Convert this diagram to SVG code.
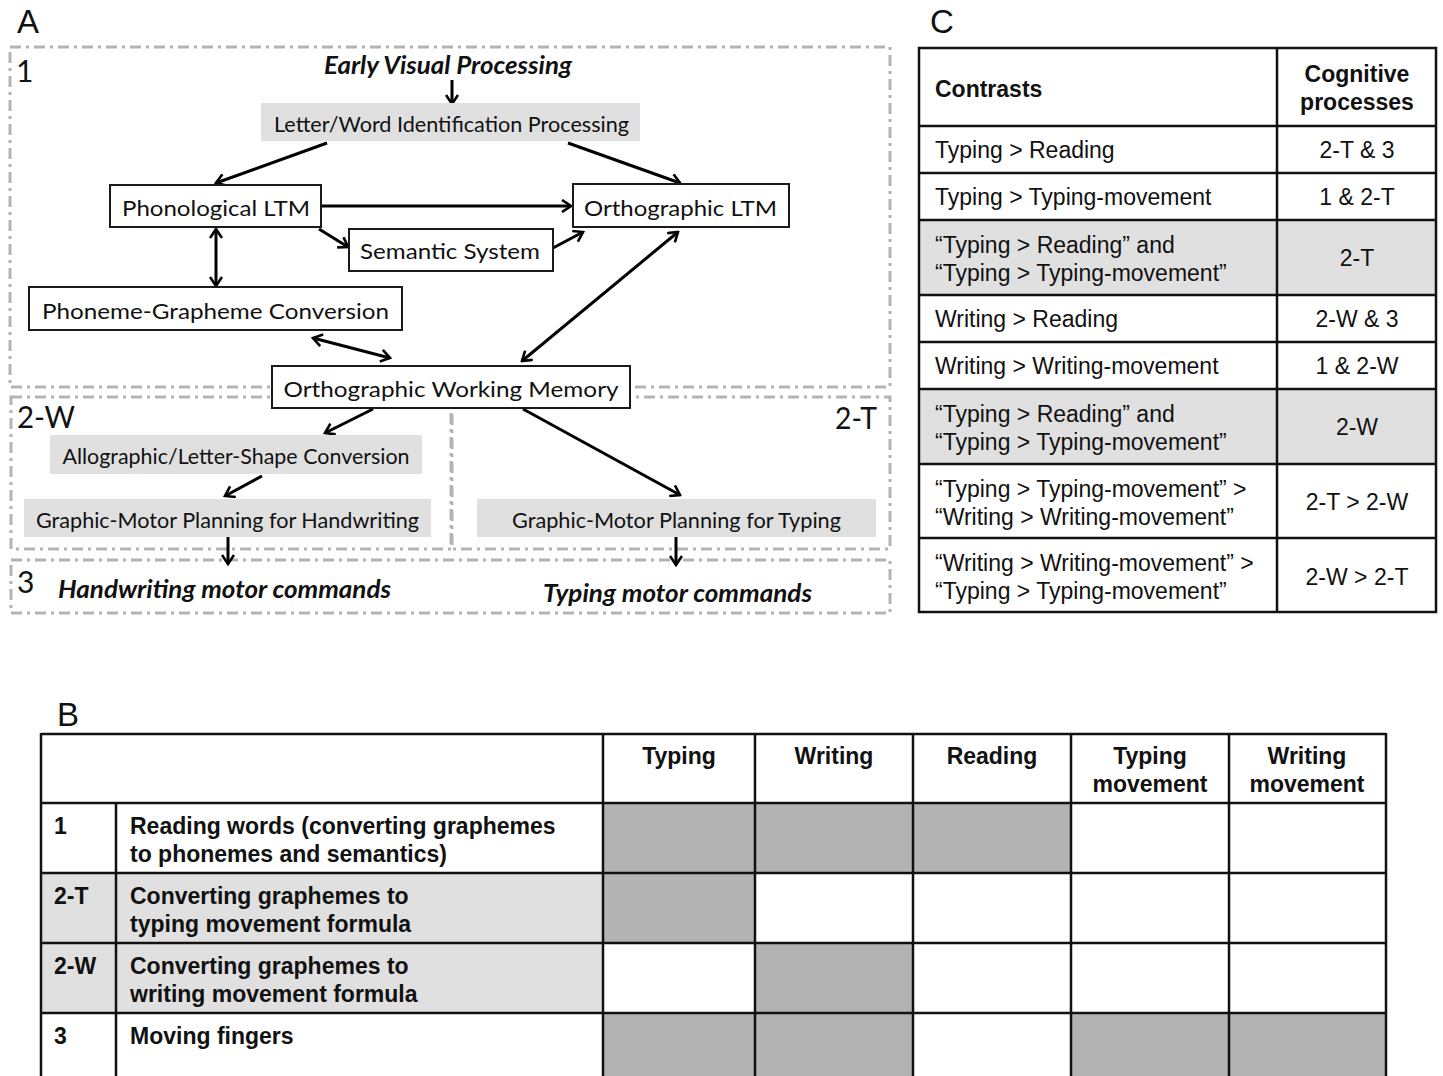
<svg xmlns="http://www.w3.org/2000/svg" width="1443" height="1076" viewBox="0 0 1443 1076">
<style>
.bg{fill:#fff}
.grp{fill:none;stroke:#b3b3b3;stroke-width:3;stroke-dasharray:11 5 3 5}
.node{fill:#fff;stroke:#1a1a1a;stroke-width:2}
.gnode{fill:#e0e0e0}
.lab{font-family:Lato,"Open Sans","Liberation Sans",sans-serif;font-size:22px;fill:#111}
.big{font-family:Lato,"Open Sans","Liberation Sans",sans-serif;font-size:30px;fill:#111}
.bi{font-family:Lato,"Open Sans","Liberation Sans",sans-serif;font-size:24px;font-weight:bold;font-style:italic;fill:#111}
.pl{font-family:"Liberation Sans",Arial,sans-serif;font-size:33px;fill:#111}
.t{font-family:"Liberation Sans",Arial,sans-serif;font-size:23px;fill:#111}
.tb{font-family:"Liberation Sans",Arial,sans-serif;font-size:23px;font-weight:bold;fill:#111}
.mid{text-anchor:middle}
.conn line{stroke:#000;stroke-width:3;marker-end:url(#ah)}
.conn line.dbl{marker-start:url(#ah)}
.tl{stroke:#111;stroke-width:2.5;fill:none}
.lg{fill:#e0e0e0}
.dg{fill:#b3b3b3}
</style>
<defs>
<marker id="ah" viewBox="0 0 14 14" refX="12" refY="7" markerWidth="14" markerHeight="14" markerUnits="userSpaceOnUse" orient="auto-start-reverse">
<path d="M3,1 L12,7 L3,13" fill="none" stroke="#000" stroke-width="2.6" stroke-linejoin="miter"/>
</marker>
</defs>
<rect class="bg" x="0" y="0" width="1443" height="1076"/>

<!-- Panel letters -->
<text class="pl" x="17" y="33">A</text>
<text class="pl" x="930" y="33">C</text>
<text class="pl" x="57" y="726">B</text>

<!-- Group boxes -->
<g id="groups">
<rect class="grp" x="10" y="47" width="880" height="340"/>
<rect class="grp" x="11" y="397" width="440" height="152"/>
<rect class="grp" x="452" y="397" width="438" height="152"/>
<rect class="grp" x="11" y="560" width="879" height="53"/>
<text class="big" x="16" y="82">1</text>
<text class="big" x="17" y="428" textLength="58" lengthAdjust="spacingAndGlyphs">2-W</text>
<text class="big" x="835" y="429" textLength="42" lengthAdjust="spacingAndGlyphs">2-T</text>
<text class="big" x="17" y="593">3</text>
</g>

<!-- Connectors -->
<g id="connectors" class="conn">
<line x1="452" y1="80" x2="452" y2="104"/>
<line x1="327" y1="143" x2="216" y2="183"/>
<line x1="568" y1="143" x2="680" y2="183"/>
<line x1="321" y1="206" x2="571" y2="206"/>
<line x1="319" y1="229" x2="348" y2="247"/>
<line x1="553" y1="248" x2="583" y2="232"/>
<line class="dbl" x1="216" y1="229" x2="216" y2="286"/>
<line class="dbl" x1="313" y1="338" x2="390" y2="358"/>
<line class="dbl" x1="522" y1="361" x2="678" y2="232"/>
<line x1="373" y1="409" x2="325" y2="433"/>
<line x1="262" y1="476" x2="225" y2="496"/>
<line x1="523" y1="409" x2="680" y2="495"/>
<line x1="228" y1="537" x2="228" y2="564"/>
<line x1="676" y1="537" x2="676" y2="565"/>
</g>

<!-- Nodes -->
<g id="early-visual">
<text class="bi mid" x="448" y="74" textLength="248" lengthAdjust="spacingAndGlyphs">Early Visual Processing</text>
</g>
<g id="letter-word">
<rect class="gnode" x="261" y="103" width="379" height="38"/>
<text class="lab mid" x="451.5" y="132" textLength="355" lengthAdjust="spacingAndGlyphs">Letter/Word Identification Processing</text>
</g>
<g id="phonological-ltm">
<rect class="node" x="110" y="185" width="211" height="42"/>
<text class="lab mid" x="216" y="216" textLength="188" lengthAdjust="spacingAndGlyphs">Phonological LTM</text>
</g>
<g id="orthographic-ltm">
<rect class="node" x="573" y="184" width="216" height="43"/>
<text class="lab mid" x="680.5" y="216" textLength="193" lengthAdjust="spacingAndGlyphs">Orthographic LTM</text>
</g>
<g id="semantic-system">
<rect class="node" x="349" y="229" width="204" height="42"/>
<text class="lab mid" x="450" y="259" textLength="180" lengthAdjust="spacingAndGlyphs">Semantic System</text>
</g>
<g id="phoneme-grapheme">
<rect class="node" x="29" y="287" width="373" height="43"/>
<text class="lab mid" x="215.5" y="319" textLength="347" lengthAdjust="spacingAndGlyphs">Phoneme-Grapheme Conversion</text>
</g>
<g id="orthographic-wm">
<rect class="node" x="272" y="366" width="358" height="42"/>
<text class="lab mid" x="451" y="397" textLength="335" lengthAdjust="spacingAndGlyphs">Orthographic Working Memory</text>
</g>
<g id="allographic">
<rect class="gnode" x="50" y="435" width="372" height="39"/>
<text class="lab mid" x="236" y="464" textLength="347" lengthAdjust="spacingAndGlyphs">Allographic/Letter-Shape Conversion</text>
</g>
<g id="gmp-handwriting">
<rect class="gnode" x="24" y="499" width="407" height="38"/>
<text class="lab mid" x="227.5" y="528" textLength="383" lengthAdjust="spacingAndGlyphs">Graphic-Motor Planning for Handwriting</text>
</g>
<g id="gmp-typing">
<rect class="gnode" x="477" y="499" width="399" height="38"/>
<text class="lab mid" x="676.5" y="528" textLength="329" lengthAdjust="spacingAndGlyphs">Graphic-Motor Planning for Typing</text>
</g>
<g id="handwriting-commands">
<text class="bi" x="58" y="598" textLength="333" lengthAdjust="spacingAndGlyphs">Handwriting motor commands</text>
</g>
<g id="typing-commands">
<text class="bi" x="543" y="602" textLength="269" lengthAdjust="spacingAndGlyphs">Typing motor commands</text>
</g>

<!-- Table C -->
<g id="tableC">
<rect class="lg" x="919" y="220" width="517" height="75"/>
<rect class="lg" x="919" y="389" width="517" height="75"/>
<rect class="tl" x="919" y="48" width="517" height="564"/>
<line class="tl" x1="1277" y1="48" x2="1277" y2="612"/>
<line class="tl" x1="919" y1="126" x2="1436" y2="126"/>
<line class="tl" x1="919" y1="173" x2="1436" y2="173"/>
<line class="tl" x1="919" y1="220" x2="1436" y2="220"/>
<line class="tl" x1="919" y1="295" x2="1436" y2="295"/>
<line class="tl" x1="919" y1="342" x2="1436" y2="342"/>
<line class="tl" x1="919" y1="389" x2="1436" y2="389"/>
<line class="tl" x1="919" y1="464" x2="1436" y2="464"/>
<line class="tl" x1="919" y1="538" x2="1436" y2="538"/>
<text class="tb" x="935" y="97">Contrasts</text>
<text class="tb mid" x="1357" y="82">Cognitive</text>
<text class="tb mid" x="1357" y="110">processes</text>
<text class="t" x="935" y="158">Typing &gt; Reading</text>
<text class="t mid" x="1357" y="158">2-T &amp; 3</text>
<text class="t" x="935" y="205">Typing &gt; Typing-movement</text>
<text class="t mid" x="1357" y="205">1 &amp; 2-T</text>
<text class="t" x="935" y="253">“Typing &gt; Reading” and</text>
<text class="t" x="935" y="281">“Typing &gt; Typing-movement”</text>
<text class="t mid" x="1357" y="266">2-T</text>
<text class="t" x="935" y="327">Writing &gt; Reading</text>
<text class="t mid" x="1357" y="327">2-W &amp; 3</text>
<text class="t" x="935" y="374">Writing &gt; Writing-movement</text>
<text class="t mid" x="1357" y="374">1 &amp; 2-W</text>
<text class="t" x="935" y="422">“Typing &gt; Reading” and</text>
<text class="t" x="935" y="450">“Typing &gt; Typing-movement”</text>
<text class="t mid" x="1357" y="435">2-W</text>
<text class="t" x="935" y="497">“Typing &gt; Typing-movement” &gt;</text>
<text class="t" x="935" y="525">“Writing &gt; Writing-movement”</text>
<text class="t mid" x="1357" y="510">2-T &gt; 2-W</text>
<text class="t" x="935" y="571">“Writing &gt; Writing-movement” &gt;</text>
<text class="t" x="935" y="599">“Typing &gt; Typing-movement”</text>
<text class="t mid" x="1357" y="585">2-W &gt; 2-T</text>
</g>

<!-- Table B -->
<g id="tableB">
<rect class="lg" x="41" y="873" width="562" height="140"/>
<rect class="dg" x="603" y="803" width="468" height="70"/>
<rect class="dg" x="603" y="873" width="152" height="70"/>
<rect class="dg" x="755" y="943" width="158" height="70"/>
<rect class="dg" x="603" y="1013" width="310" height="63"/>
<rect class="dg" x="1071" y="1013" width="315" height="63"/>
<line class="tl" x1="41" y1="734" x2="1386" y2="734"/>
<line class="tl" x1="41" y1="733" x2="41" y2="1076"/>
<line class="tl" x1="1386" y1="733" x2="1386" y2="1076"/>
<line class="tl" x1="116" y1="803" x2="116" y2="1076"/>
<line class="tl" x1="603" y1="734" x2="603" y2="1076"/>
<line class="tl" x1="755" y1="734" x2="755" y2="1076"/>
<line class="tl" x1="913" y1="734" x2="913" y2="1076"/>
<line class="tl" x1="1071" y1="734" x2="1071" y2="1076"/>
<line class="tl" x1="1229" y1="734" x2="1229" y2="1076"/>
<line class="tl" x1="41" y1="803" x2="1386" y2="803"/>
<line class="tl" x1="41" y1="873" x2="1386" y2="873"/>
<line class="tl" x1="41" y1="943" x2="1386" y2="943"/>
<line class="tl" x1="41" y1="1013" x2="1386" y2="1013"/>
<text class="tb mid" x="679" y="764">Typing</text>
<text class="tb mid" x="834" y="764">Writing</text>
<text class="tb mid" x="992" y="764">Reading</text>
<text class="tb mid" x="1150" y="764">Typing</text>
<text class="tb mid" x="1150" y="792">movement</text>
<text class="tb mid" x="1307" y="764">Writing</text>
<text class="tb mid" x="1307" y="792">movement</text>
<text class="tb" x="54" y="834">1</text>
<text class="tb" x="130" y="834">Reading words (converting graphemes</text>
<text class="tb" x="130" y="862">to phonemes and semantics)</text>
<text class="tb" x="54" y="904">2-T</text>
<text class="tb" x="130" y="904">Converting graphemes to</text>
<text class="tb" x="130" y="932">typing movement formula</text>
<text class="tb" x="54" y="974">2-W</text>
<text class="tb" x="130" y="974">Converting graphemes to</text>
<text class="tb" x="130" y="1002">writing movement formula</text>
<text class="tb" x="54" y="1044">3</text>
<text class="tb" x="130" y="1044">Moving fingers</text>
</g>
</svg>
